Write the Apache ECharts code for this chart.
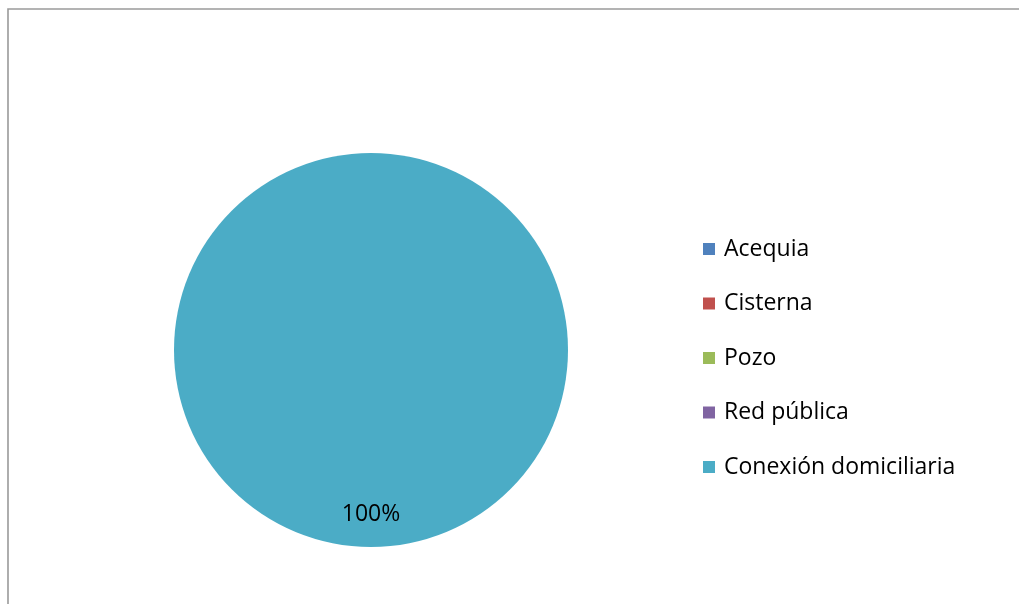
<!DOCTYPE html>
<html>
<head>
<meta charset="utf-8">
<style>
  html, body { margin: 0; padding: 0; background: #ffffff; }
  #chart { width: 1019px; height: 604px; }
</style>
<script src="https://cdn.jsdelivr.net/npm/echarts@6/dist/echarts.min.js"></script>
</head>
<body>
<div id="chart"></div>
<script>
// Water supply source categories and their shares
const categories = ['Acequia', 'Cisterna', 'Pozo', 'Red pública', 'Conexión domiciliaria'];
const values = [0, 0, 0, 0, 100];
const colors = ['#4F81BD', '#C0504D', '#9BBB59', '#8064A2', '#4BACC6'];

const FONT = '"Open Sans", Lato, "Noto Sans", sans-serif';

const chart = echarts.init(document.getElementById('chart'), null, { renderer: 'canvas' });

chart.setOption({
  animation: false,
  backgroundColor: '#ffffff',
  color: colors,
  graphic: [{
    type: 'rect',
    silent: true,
    shape: { x: 8, y: 9, width: 1200, height: 800 },
    style: { fill: 'none', stroke: '#9a9a9a', lineWidth: 1.6 }
  }],
  legend: {
    orient: 'vertical',
    left: 703,
    top: 237,
    padding: 0,
    icon: 'rect',
    itemWidth: 12,
    itemHeight: 12,
    itemGap: 30.5,
    selectedMode: false,
    textStyle: { fontFamily: FONT, fontSize: 23, color: '#000000', lineHeight: 24, padding: [0, 0, 0, 4] },
    data: categories
  },
  series: [{
    type: 'pie',
    center: [371, 350],
    radius: [0, 197],
    startAngle: 90,
    clockwise: true,
    silent: true,
    stillShowZeroSum: true,
    itemStyle: { borderWidth: 0 },
    label: {
      show: true,
      position: 'inside',
      offset: [0, 63],
      fontFamily: FONT,
      fontSize: 23,
      color: '#000000',
      formatter: p => (p.value ? p.percent + '%' : '')
    },
    labelLine: { show: false },
    emphasis: { disabled: true },
    data: categories.map((name, i) => ({ name, value: values[i] }))
  }]
});
</script>
</body>
</html>
